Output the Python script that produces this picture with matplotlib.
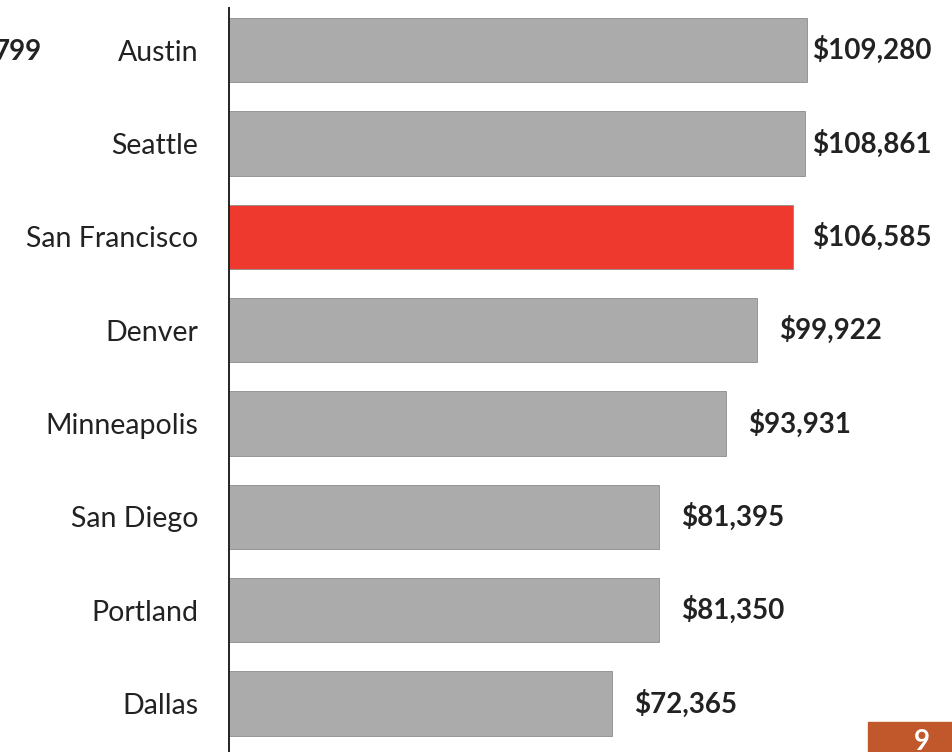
import matplotlib.pyplot as plt
import numpy as np

cities = ['Austin', 'Seattle', 'San Francisco', 'Denver', 'Minneapolis',
          'San Diego', 'Portland', 'Dallas']
salaries = [109280, 108861, 106585, 99922, 93931, 81395, 81350, 72365]
highlight = 'San Francisco'
cut_label = '799'
page_number = '9'

plt.rcParams['font.family'] = ['Lato', 'DejaVu Sans']

W, H = 952, 752
fig = plt.figure(figsize=(W / 100, H / 100), dpi=100)
ax = fig.add_axes([229 / W, 0, 1 - 229 / W, 1 - 8 / H])

y = np.arange(len(cities))
colors = ['#ee3a2e' if c == highlight else '#ababab' for c in cities]
ax.barh(y, salaries, height=0.69, color=colors, edgecolor='#8c8c8c', linewidth=0.6)

ax.set_xlim(0, 136700)
ax.set_ylim(7.52, -0.45)
for s in ['top', 'right', 'bottom']:
    ax.spines[s].set_visible(False)
ax.spines['left'].set_linewidth(1.4)
ax.spines['left'].set_color('#222222')
ax.set_xticks([])
ax.set_yticks(y)
ax.set_yticklabels(cities, fontsize=20.5, color='#222222')
ax.tick_params(axis='y', length=0, pad=22)

# value labels: ~22 px right of bar end, but not past x=812 px
px_per_unit = (W - 229) / 136700
for yi, v in zip(y, salaries):
    xpix = min(v * px_per_unit + 22, 812 - 229)
    ax.text(xpix / px_per_unit, yi, f'${v:,}', fontsize=20, fontweight='bold',
            color='#222222', va='center', ha='left')

# partially cropped label at top left
fig.text(42 / W, 1 - 52 / H, cut_label, fontsize=20, fontweight='bold',
         color='#222222', ha='right', va='center')

# page number box bottom right
fig.patches.append(plt.Rectangle((868 / W, 0), 1 - 868 / W, 30 / H,
                                 transform=fig.transFigure, color='#c0582c'))
fig.text(922 / W, 1 - 729 / H, page_number, fontsize=20, fontweight='bold',
         color='white', ha='center', va='top')

fig.savefig('out.png', dpi=100)
